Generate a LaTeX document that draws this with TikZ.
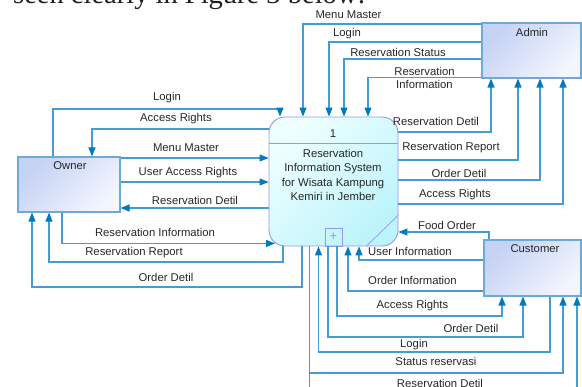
\documentclass[tikz,border=0pt]{standalone}
\usepackage{fontspec}
\setmainfont{Liberation Sans}
\newfontfamily\hdrfont{Liberation Serif}
\usetikzlibrary{arrows.meta}
\definecolor{ln}{RGB}{70,155,210}
\definecolor{tipc}{RGB}{0,122,190}
\definecolor{entA}{RGB}{196,210,244}
\definecolor{entB}{RGB}{244,246,254}
\definecolor{entE}{RGB}{110,170,215}
\definecolor{prA}{RGB}{238,255,255}
\definecolor{prB}{RGB}{188,244,252}
\definecolor{prE}{RGB}{150,150,240}
\tikzset{
  flow/.style={draw=ln, line width=1.1pt, -{Triangle[length=9pt,width=7pt,color=tipc]}},
  lbl/.style={font=\fontsize{11.3}{12}\selectfont, inner sep=0pt, text=black!85},
  entity/.style={draw=entE, line width=1.1pt, top color=entA, bottom color=entB, shading angle=45, inner sep=0pt},
  procbox/.style={draw=prE, line width=0.9pt, rounded corners=16pt, top color=prA, bottom color=prB, shading angle=45, inner sep=0pt},
}
\begin{document}
\begin{tikzpicture}[x=1pt,y=-1pt]
\useasboundingbox (0,0) rectangle (582,387);
\node[anchor=base west, font=\hdrfont\fontsize{28.5}{30}\selectfont, inner sep=0pt, text=black!88] (hdr) at (13,4) {seen clearly in Figure 3 below:};

% entities
\node[entity, minimum width=99pt, minimum height=55pt] (admin) at (531.5,50.5) {};
\node[lbl] (adminT) at (532,32) {Admin};
\node[entity, minimum width=102pt, minimum height=55pt] (owner) at (69,184.5) {};
\node[lbl] (ownerT) at (70,165.5) {Owner};
\node[entity, minimum width=97pt, minimum height=56pt] (customer) at (532.5,268) {};
\node[lbl] (customerT) at (535,249) {Customer};

% process
\node[procbox, minimum width=129pt, minimum height=129pt] (proc) at (333.5,181.5) {};
\draw[prE, line width=0.8pt] (proc.west |- 0,143) -- (proc.east |- 0,143);
\node[lbl] (pnum) at (333,134) {1};
\node[lbl, align=center, font=\fontsize{11.3}{14.3}\selectfont] (ptext) at (333,175) {Reservation\\Information System\\for Wisata Kampung\\Kemiri in Jember};
\node[draw=prE, line width=0.8pt, minimum width=17pt, minimum height=18pt, inner sep=0pt, text=prE, font=\fontsize{13}{13}\selectfont] (plus) at (333.5,237) {+};
\draw[prE, line width=0.7pt] (proc.east |- 0,215) -- (proc.south -| 366,0);

% Owner flows
\draw[flow] (owner.north -| 53,0) |- (280,109) -- (proc.north -| 280,0);
\node[lbl] (l1) at (167,98) {Login};
\draw[flow] (proc.west |- 0,129) -| (owner.north -| 92,0);
\node[lbl] (l2) at (176,118.5) {Access Rights};
\draw[flow] (owner.east |- 0,158) -- (proc.west |- 0,158);
\node[lbl] (l3) at (186,148) {Menu Master};
\draw[flow] (owner.east |- 0,182) -- (proc.west |- 0,182);
\node[lbl] (l4) at (188,173) {User Access Rights};
\draw[flow] (proc.west |- 0,208) -- (owner.east |- 0,208);
\node[lbl] (l5) at (195,200) {Reservation Detil};
\draw[flow] (owner.south -| 62,0) |- ([shift={(6.5,-3)}]proc.south west);
\node[lbl] (l6) at (155,232) {Reservation Information};
\draw[flow] (proc.south -| 283,0) |- (49,262) -- (owner.south -| 49,0);
\node[lbl] (l7) at (134,253) {Reservation Report};
\draw[flow] (proc.south -| 302,0) |- (32,287) -- (owner.south -| 32,0);
\node[lbl] (l8) at (166,277.5) {Order Detil};

% Admin flows
\draw[flow] (admin.west |- 0,24) -| (proc.north -| 303,0);
\node[lbl] (a1) at (348.5,14.5) {Menu Master};
\draw[flow] (admin.west |- 0,42) -| (proc.north -| 329,0);
\node[lbl] (a2) at (347,34) {Login};
\draw[flow] (admin.west |- 0,59) -| (proc.north -| 344,0);
\node[lbl] (a3) at (398,52) {Reservation Status};
\draw[flow] (admin.west |- 0,77.5) -| (proc.north -| 368,0);
\node[lbl, align=center, font=\fontsize{11.3}{13}\selectfont] (a4) at (424.5,77.5) {Reservation\\Information};
\draw[flow] (proc.east |- 0,132) -| (admin.south -| 491,0);
\node[lbl] (a5) at (436,121) {Reservation Detil};
\draw[flow] (proc.east |- 0,160) -| (admin.south -| 518,0);
\node[lbl] (a6) at (451,148) {Reservation Report};
\draw[flow] (proc.east |- 0,180) -| (admin.south -| 540,0);
\node[lbl] (a7) at (459,173) {Order Detil};
\draw[flow] (proc.east |- 0,204) -| (admin.south -| 563,0);
\node[lbl] (a8) at (455,195) {Access Rights};

% Customer flows
\draw[flow] (customer.north -| 489,0) |- (proc.east |- 0,232);
\node[lbl] (c1) at (447,225) {Food Order};
\draw[flow] (customer.west |- 0,260) -| (proc.south -| 359,0);
\node[lbl] (c2) at (410,251) {User Information};
\draw[flow] (customer.west |- 0,291) -| (proc.south -| 348,0);
\node[lbl] (c3) at (412.5,280) {Order Information};
\draw[flow] (proc.south -| 337,0) |- (502,316) -- (customer.south -| 502,0);
\node[lbl] (c4) at (412.5,306) {Access Rights};
\draw[flow] (proc.south -| 328,0) |- (523,337) -- (customer.south -| 523,0);
\node[lbl] (c5) at (471,328) {Order Detil};
\draw[flow] (customer.south -| 550,0) |- (318.5,352) -- (proc.south -| 318.5,0);
\node[lbl] (c6) at (414,345) {Login};
\draw[flow] (proc.south -| 309.5,0) |- (563,373) -- (customer.south -| 563,0);
\node[lbl] (c7) at (436,361.5) {Status reservasi};
\draw[flow] (proc.south -| 309.5,0) |- (577,396) -- (customer.south -| 577,0);
\node[lbl] (c8) at (440,383) {Reservation Detil};
\end{tikzpicture}
\end{document}
